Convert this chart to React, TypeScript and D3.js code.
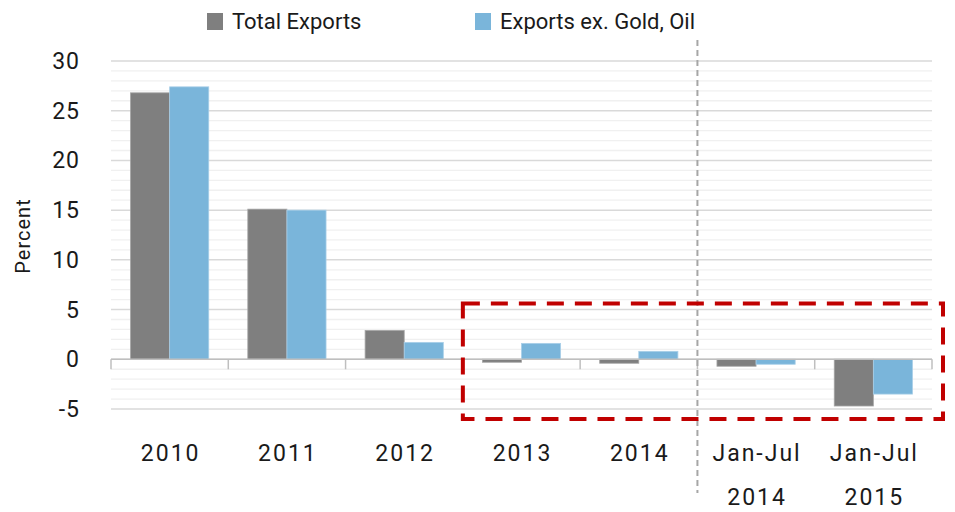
import * as d3 from "d3";

const categories: string[][] = [["2010"], ["2011"], ["2012"], ["2013"], ["2014"], ["Jan-Jul", "2014"], ["Jan-Jul", "2015"]];
const seriesNames = ["Total Exports", "Exports ex. Gold, Oil"];
const totalExports = [26.8, 15.1, 2.9, -0.3, -0.4, -0.7, -4.7];
const exportsExGoldOil = [27.4, 15.0, 1.7, 1.6, 0.8, -0.5, -3.5];
const yTicks = [30, 25, 20, 15, 10, 5, 0, -5];
const colors = ["#7f7f7f", "#7ab5da"];

export default function App() {
  const width = 955;
  const height = 512;
  const left = 111;
  const right = 932;
  const font = "Roboto, 'DejaVu Sans', sans-serif";

  const keys = categories.map((c) => c.join(" "));
  const x = d3.scaleBand().domain(keys).range([left, right]);
  const y = d3.scaleLinear().domain([-5, 30]).range([409, 61]);

  // two bars per category, together ~2/3 of the band
  const inner = (x.bandwidth() * 0.667) / 2;
  const offset = (x.bandwidth() - inner * 2) / 2;
  const series = [totalExports, exportsExGoldOil];
  const minor = d3.range(-5, 31, 1);

  return (
    <svg width={width} height={height} style={{ position: "absolute", left: 0, top: 0 }}>
      <rect width={width} height={height} fill="#fff" />
      {minor.map((v) => (
        <line key={"m" + v} x1={left} x2={right} y1={y(v)} y2={y(v)} stroke={v % 5 === 0 ? "#d9d9d9" : "#f0f0f0"} strokeWidth={v % 5 === 0 ? 1.5 : 1.3} />
      ))}
      {series.map((vals, si) =>
        vals.map((v, i) => {
          const bx = (x(keys[i]) as number) + offset + si * inner;
          return (
            <rect
              key={si + "-" + i}
              x={bx}
              y={y(Math.max(0, v))}
              width={inner}
              height={Math.abs(y(v) - y(0))}
              fill={colors[si]}
              stroke={si === 0 ? "#a6a6a6" : "#a9cfe8"}
              strokeWidth={0.8}
            />
          );
        })
      )}
      <line x1={left} x2={right} y1={y(0)} y2={y(0)} stroke="#bfbfbf" strokeWidth={1.5} />
      {keys.concat(["end"]).map((k, i) => {
        const tx = left + i * x.bandwidth();
        return <line key={"t" + i} x1={tx} x2={tx} y1={y(0)} y2={y(0) + 10} stroke="#bfbfbf" strokeWidth={1.5} />;
      })}
      {yTicks.map((v) => (
        <text key={"y" + v} x={80} y={y(v)} dy="0.35em" textAnchor="end" fontFamily={font} fontSize={23} letterSpacing={1} fill="#1a1a1a">
          {v}
        </text>
      ))}
      <text transform={`translate(30,236) rotate(-90)`} textAnchor="middle" fontFamily={font} fontSize={20} letterSpacing={1} fill="#1a1a1a">
        Percent
      </text>
      {categories.map((c, i) => (
        <text key={"c" + i} textAnchor="middle" fontFamily={font} fontSize={23} letterSpacing={2} fill="#1a1a1a">
          {c.map((line, j) => (
            <tspan key={j} x={(x(keys[i]) as number) + x.bandwidth() / 2 + 1} y={461 + j * 44}>
              {line}
            </tspan>
          ))}
        </text>
      ))}
      <line x1={x(keys[5]) as number} x2={x(keys[5]) as number} y1={40} y2={493} stroke="#a6a6a6" strokeWidth={2} strokeDasharray="6,4" />
      <rect x={x(keys[3]) as number} y={y(5.6)} width={943 - (x(keys[3]) as number)} height={y(-6) - y(5.6)} fill="none" stroke="#c00000" strokeWidth={4} strokeDasharray="17,11" />
      {seriesNames.map((s, i) => {
        const lx = i === 0 ? 207 : 475;
        return (
          <g key={s}>
            <rect x={lx} y={13} width={16} height={17} fill={colors[i]} />
            <text x={lx + 25} y={29} fontFamily={font} fontSize={22} fill="#1a1a1a">
              {s}
            </text>
          </g>
        );
      })}
    </svg>
  );
}
